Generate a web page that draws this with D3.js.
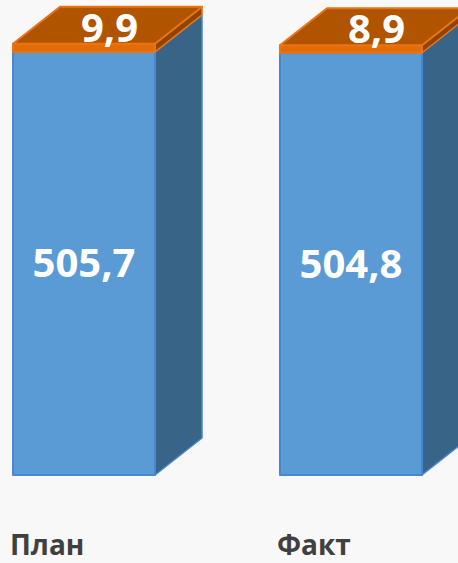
<!DOCTYPE html>
<html>
<head>
<meta charset="utf-8">
<script src="https://cdn.jsdelivr.net/npm/d3@7"></script>
<style>
  html, body { margin: 0; padding: 0; background: #f8f8f8; overflow: hidden; }
  text { font-family: "Open Sans", "DejaVu Sans", sans-serif; font-weight: bold; }
</style>
</head>
<body>
<div class="chart"></div>
<script>
// chart data
var categories = ["План", "Факт"];
var baseValues = [505.7, 504.8];
var topValues = [9.9, 8.9];
var baseLabels = ["505,7", "504,8"];
var topLabels = ["9,9", "8,9"];

var width = 458, height = 563;
var depthX = 47, depthY = 37;

var svg = d3.select(".chart")
	.append("svg")
		.attr("width", width)
		.attr("height", height);

// X Scale
var x = d3.scaleBand()
	.domain(categories)
	.range([13, 422])
	.paddingInner(0.468)
	.paddingOuter(0);

// Y Scale
var y = d3.scaleLinear()
	.domain([0, 520])
	.range([475, 40]);

var segColors = [
	{ front: "#5b9bd5", stroke: "#4a86d2", side: "#386487", top: "#5b9bd5" },
	{ front: "#e36c09", stroke: "#ea7412", side: "#8f4406", top: "#b05400" }
];

var rows = categories.map(function(c, i) {
	return { cat: c, base: baseValues[i], extra: topValues[i], baseLabel: baseLabels[i], topLabel: topLabels[i] };
});

var groups = svg.selectAll("g.bar")
	.data(rows)
	.enter()
	.append("g")
		.attr("class", "bar");

function poly(pts) {
	return pts.map(function(p) { return p.join(","); }).join(" ");
}

groups.each(function(d) {
	var g = d3.select(this);
	var x0 = x(d.cat), x1 = x(d.cat) + x.bandwidth();
	var segs = [[0, d.base], [d.base, d.base + d.extra]];

	segs.forEach(function(s, k) {
		var yb = y(s[0]), yt = y(s[1]);
		var col = segColors[k];
		// side face
		g.append("polygon")
			.attr("points", poly([[x1, yt], [x1 + depthX, yt - depthY], [x1 + depthX, yb - depthY], [x1, yb]]))
			.attr("fill", col.side)
			.attr("stroke", col.stroke)
			.attr("stroke-width", 1.5)
			.attr("stroke-linejoin", "round");
		// front face
		g.append("rect")
			.attr("x", x0)
			.attr("y", yt)
			.attr("width", x1 - x0)
			.attr("height", yb - yt)
			.attr("fill", col.front)
			.attr("stroke", col.stroke)
			.attr("stroke-width", 2)
			.attr("stroke-linejoin", "round");
		// top face on last segment
		if (k === segs.length - 1) {
			g.append("polygon")
				.attr("points", poly([[x0, yt], [x0 + depthX, yt - depthY], [x1 + depthX, yt - depthY], [x1, yt]]))
				.attr("fill", col.top)
				.attr("stroke", col.stroke)
				.attr("stroke-width", 2)
				.attr("stroke-linejoin", "round");
		}
	});

	// value labels
	g.append("text")
		.attr("x", (x0 + x1) / 2)
		.attr("y", (y(0) + y(d.base)) / 2 + 14)
		.attr("text-anchor", "middle")
		.attr("font-size", "40px")
		.attr("fill", "#ffffff")
		.text(d.baseLabel);

	g.append("text")
		.attr("x", (x0 + x1) / 2 + depthX / 2 + 2)
		.attr("y", y(d.base + d.extra) - 2)
		.attr("text-anchor", "middle")
		.attr("font-size", "40px")
		.attr("fill", "#ffffff")
		.text(d.topLabel);

	// category label
	g.append("text")
		.attr("x", x0 - 3)
		.attr("y", 555)
		.attr("font-size", "28px")
		.attr("fill", "#404040")
		.text(d.cat);
});
</script>
</body>
</html>
